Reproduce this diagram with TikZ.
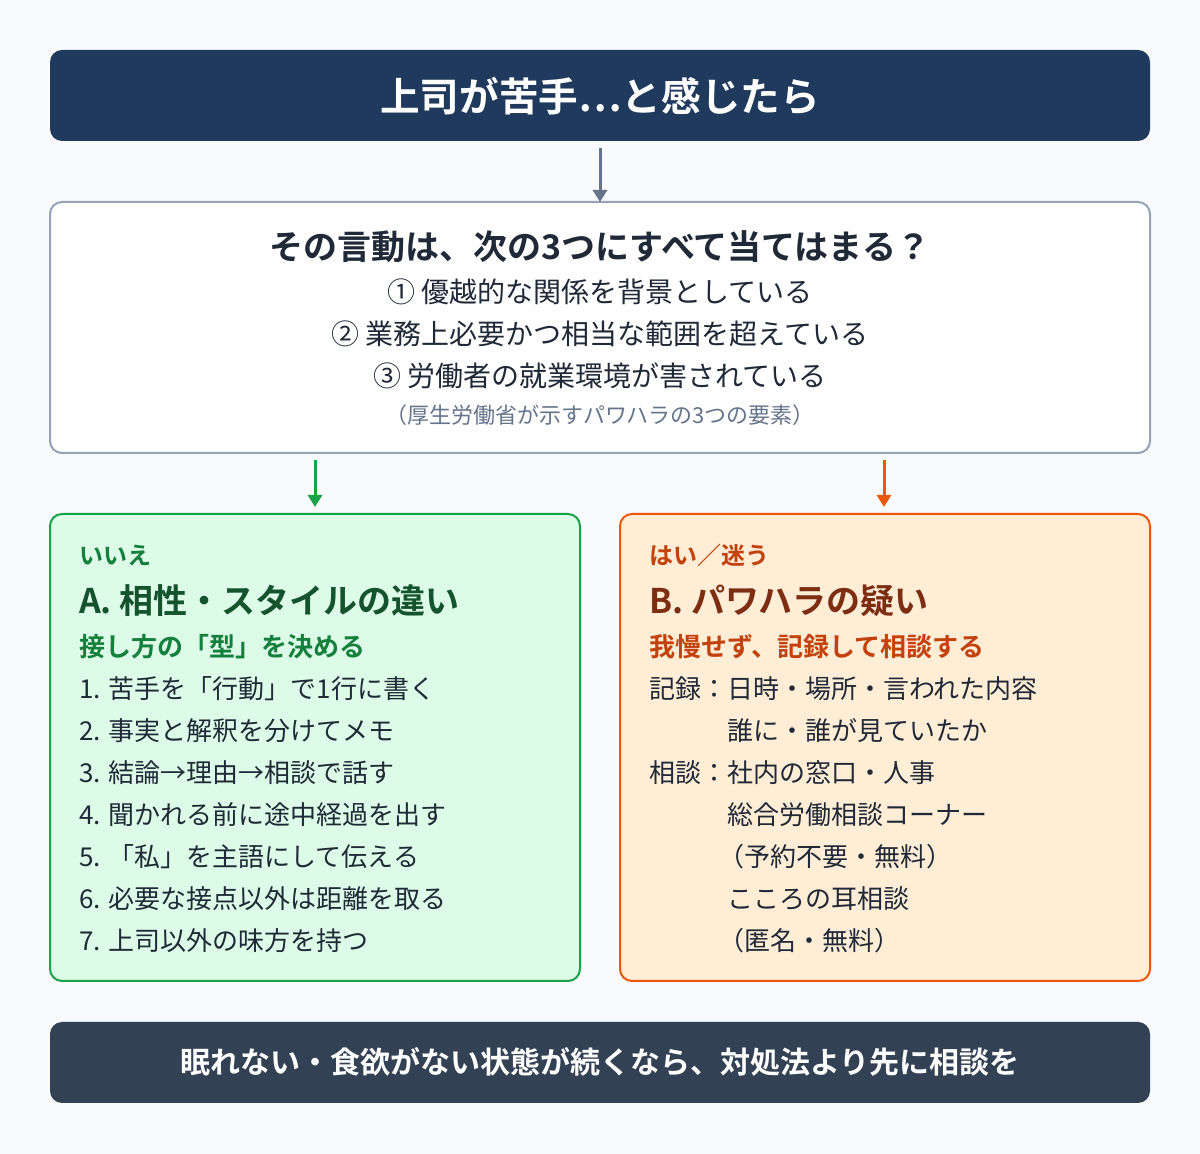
\documentclass[tikz,border=0pt]{standalone}
\usepackage{fontspec}
\setmainfont{Noto Sans CJK JP}
\newfontfamily\jpb{Noto Sans CJK JP Bold}
\usetikzlibrary{arrows.meta}
\definecolor{navy}{HTML}{1F3A5C}
\definecolor{slate}{HTML}{334155}
\definecolor{qborder}{HTML}{94A3B8}
\definecolor{gfill}{HTML}{DCFCE7}
\definecolor{gline}{HTML}{16A34A}
\definecolor{gtext}{HTML}{15803D}
\definecolor{gdark}{HTML}{14532D}
\definecolor{ofill}{HTML}{FFEDD5}
\definecolor{oline}{HTML}{EA580C}
\definecolor{otext}{HTML}{C2410C}
\definecolor{odark}{HTML}{7C2D12}
\definecolor{body}{HTML}{1F2937}
\definecolor{arrowgray}{HTML}{64748B}
\definecolor{bg}{HTML}{F8FAFC}
\begin{document}
\begin{tikzpicture}[x=1pt,y=1pt,
  box/.style={draw,rounded corners=12pt,line width=2pt,inner sep=0pt},
  lt/.style={anchor=west,inner sep=0pt,font=\fontsize{26}{30}\selectfont,text=body},
  ct/.style={inner sep=0pt,font=\fontsize{28}{32}\selectfont,text=body},
  arr/.style={-{Triangle[length=12pt,width=14pt]},line width=3pt}]
\fill[bg] (0,0) rectangle (1200,1154);
\useasboundingbox (0,0) rectangle (1200,1154);
% title
\fill[navy,rounded corners=12pt] (50,1013) rectangle (1150,1104);
\node[inner sep=0pt,text=white,font=\jpb\fontsize{39.6}{44}\selectfont] (title) at (600,1058) {上司が苦手…と感じたら};
% question
\draw[box,qborder,fill=white] (50,952) rectangle (1150,701);
\coordinate (qtop) at (600,952);
\coordinate (tbot) at (600,1006);
\draw[arr,arrowgray] (tbot) -- (qtop);
\node[ct,font=\jpb\fontsize{34}{38}\selectfont] (qh) at (600,907) {その言動は、次の3つにすべて当てはまる？};
\node[ct] (q1) at (600,862) {① 優越的な関係を背景としている};
\node[ct] (q2) at (600,820) {② 業務上必要かつ相当な範囲を超えている};
\node[ct] (q3) at (600,778) {③ 労働者の就業環境が害されている};
\node[ct,font=\fontsize{22}{26}\selectfont,text=arrowgray] (qn) at (600,739) {（厚生労働省が示すパワハラの3つの要素）};
% boxes
\draw[box,gline,fill=gfill] (50,640) rectangle (580,173);
\draw[box,oline,fill=ofill] (620,640) rectangle (1150,173);
\coordinate (ga) at (315,694); \coordinate (gb) at (315,647);
\coordinate (oa) at (884,694); \coordinate (ob) at (884,647);
\draw[arr,gline] (ga) -- (gb);
\draw[arr,oline] (oa) -- (ob);
% left
\node[lt,text=gtext,font=\jpb\fontsize{24}{28}\selectfont] (l0) at (79,599) {いいえ};
\node[lt,text=gdark,font=\jpb\fontsize{34}{38}\selectfont] (l1) at (79,553) {A. 相性・スタイルの違い};
\node[lt,text=gtext,font=\jpb\fontsize{26}{30}\selectfont] (l2) at (79,507) {接し方の「型」を決める};
\node[lt] at (79,465) {1. 苦手を「行動」で1行に書く};
\node[lt] at (79,423) {2. 事実と解釈を分けてメモ};
\node[lt] at (79,381) {3. 結論→理由→相談で話す};
\node[lt] at (79,339) {4. 聞かれる前に途中経過を出す};
\node[lt] at (79,297) {5. 「私」を主語にして伝える};
\node[lt] at (79,255) {6. 必要な接点以外は距離を取る};
\node[lt] at (79,213) {7. 上司以外の味方を持つ};
% right
\node[lt,text=otext,font=\jpb\fontsize{24}{28}\selectfont] (r0) at (649,599) {はい／迷う};
\node[lt,text=odark,font=\jpb\fontsize{34}{38}\selectfont] (r1) at (649,553) {B. パワハラの疑い};
\node[lt,text=otext,font=\jpb\fontsize{26}{30}\selectfont] (r2) at (649,507) {我慢せず、記録して相談する};
\node[lt] at (649,465) {記録：日時・場所・言われた内容};
\node[lt] at (727,423) {誰に・誰が見ていたか};
\node[lt] at (649,381) {相談：社内の窓口・人事};
\node[lt] at (727,339) {総合労働相談コーナー};
\node[lt] at (718,297) {（予約不要・無料）};
\node[lt] at (727,255) {こころの耳相談};
\node[lt] at (718,213) {（匿名・無料）};
% bottom
\fill[slate,rounded corners=12pt] (50,132) rectangle (1150,51);
\node[inner sep=0pt,text=white,font=\jpb\fontsize{30}{34}\selectfont] (foot) at (600,92) {眠れない・食欲がない状態が続くなら、対処法より先に相談を};
\end{tikzpicture}
\end{document}
